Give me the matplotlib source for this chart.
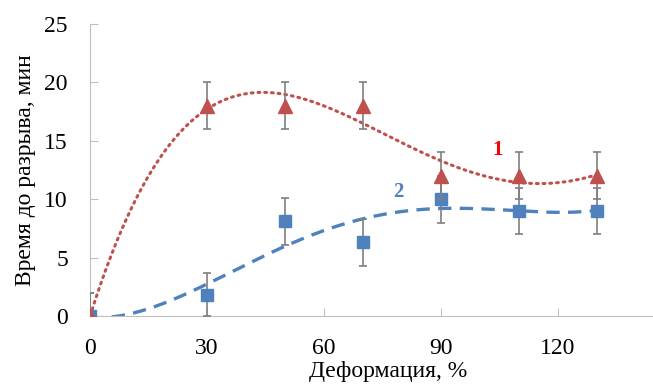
import numpy as np
import matplotlib.pyplot as plt

plt.rcParams['font.family'] = ['Liberation Serif', 'DejaVu Serif']

deform = [0, 30, 50, 70, 90, 110, 130]
time1 = [0, 18, 18, 18, 12, 12, 12]
err1 = [2, 2, 2, 2, 2, 2, 2]
time2 = [0, 1.8, 8.1, 6.3, 10, 9, 9]
err2_low = [0, 1.8, 2, 2, 2, 2, 2]
err2_up = [2, 1.9, 2, 2, 2, 2, 2]

red = '#c0504d'
blue = '#4f81bd'
grey = '#7f7f7f'

fig = plt.figure(figsize=(6.53, 3.85), dpi=100)
ax = fig.add_axes([0.138, 0.179, 0.862, 0.759])

# trend lines (polynomial, like Excel)
xs = np.linspace(0, 130, 300)
p1 = np.polyfit(deform, time1, 4)
p2 = np.polyfit(deform, time2, 4)
ax.plot(xs, np.polyval(p1, xs), color=red, lw=2.2, ls=(0, (0.6, 1.6)),
        dash_capstyle='round', zorder=2)
ax.plot(xs, np.polyval(p2, xs), color=blue, lw=2.4, ls=(0, (4, 2.5)), zorder=2)

ax.errorbar(deform, time2, yerr=[err2_low, err2_up], fmt='s', color=blue,
            ms=9, ecolor=grey, elinewidth=1.2, capsize=3, capthick=1.2, zorder=3)
ax.errorbar(deform, time1, yerr=err1, fmt='^', color=red, ms=10,
            ecolor=grey, elinewidth=1.2, capsize=3, capthick=1.2, zorder=4)

ax.text(104.5, 14.2, '1', color='red', fontsize=15, fontweight='bold',
        ha='center', va='center')
ax.text(79, 10.6, '2', color=blue, fontsize=15, fontweight='bold',
        ha='center', va='center')

ax.set_xlim(0, 144.4)
ax.set_ylim(0, 25)
ax.set_xticks([0, 30, 60, 90, 120])
ax.set_yticks([0, 5, 10, 15, 20, 25])
ax.tick_params(direction='in', length=6, color='#bfbfbf', labelsize=17)
ax.tick_params(axis='y', pad=16)
ax.tick_params(axis='x', pad=16)
for s in ['top', 'right']:
    ax.spines[s].set_visible(False)
for s in ['left', 'bottom']:
    ax.spines[s].set_color('#bfbfbf')

ax.set_xlabel('Деформация, %', fontsize=17)
ax.xaxis.set_label_coords(0.529, -0.155, transform=ax.transAxes)
ax.xaxis.label.set_va('top')
ax.set_ylabel('Время до разрыва, мин', fontsize=17, labelpad=6)

fig.savefig('out.png', dpi=100)
